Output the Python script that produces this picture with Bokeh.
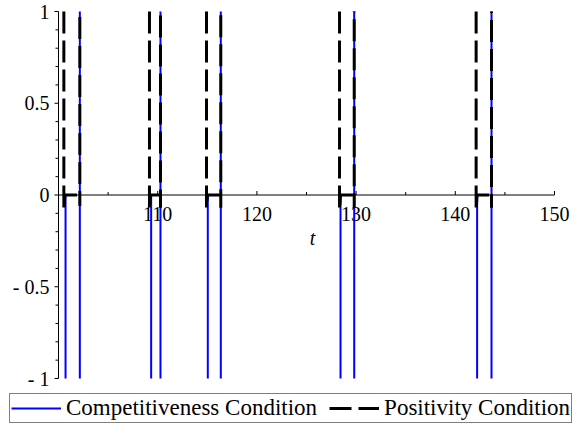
import math
from bokeh.plotting import figure
from bokeh.models import Range1d, Legend, LegendItem
from bokeh.core.properties import value
from bokeh.embed import file_html
from bokeh.resources import INLINE

nan = float("nan")

# Event times (t)
dash_left = [100.54, 109.17, 114.92, 128.33, 142.10]   # positivity drops to 0
blue_left = [100.71, 109.34, 115.05, 128.43, 142.20]   # competitiveness drops
right_t = [102.15, 110.28, 116.36, 129.81, 143.65]     # both jump back up
dip_left = [-0.08, -0.08, -0.07, -0.08, -0.08]
dip_right = [-0.06, -0.07, -0.07, -0.07, -0.07]

# Axes
x_min, x_max = 100, 150
y_min, y_max = -1, 1
x_ticks = [110, 120, 130, 140, 150]
x_tick_labels = ["110", "120", "130", "140", "150"]
x_minor = [105, 115, 125, 135, 145]
y_ticks = [-1, -0.5, 0, 0.5, 1]
y_tick_labels = ["- 1", "- 0.5", "0", "0.5", "1"]
y_minor = [-0.9, -0.8, -0.7, -0.6, -0.4, -0.3, -0.2, -0.1,
           0.1, 0.2, 0.3, 0.4, 0.6, 0.7, 0.8, 0.9]
x_label = "t"
x_label_pos = 125.6
series_names = ["Competitiveness Condition", "Positivity Condition"]

# Build the two series (values beyond the view are cut at the view edge)
comp_t, comp_y = [], []
for a, b in zip(blue_left, right_t):
    comp_t += [a, a, nan, b, b, nan]
    comp_y += [0.0, y_min, nan, y_min, y_max, nan]

pos_t, pos_y = [], []
for a, b, d1, d2 in zip(dash_left, right_t, dip_left, dip_right):
    pos_t += [a, a, a + 0.1, b, b, b, nan]
    pos_y += [y_max, d1, 0.0, 0.0, d2, y_max, nan]

serif = "Liberation Serif"
BLUE = "#0000ff"

# The frame fills the whole canvas; view ranges put t=100..150 at x=58..554
# and y=1..-1 at y=11..378 px.
p = figure(width=580, height=427, output_backend="svg", toolbar_location=None,
           x_range=Range1d(94.153, 152.621), y_range=Range1d(-1.267, 1.060),
           min_border=0, min_border_left=0, min_border_right=0,
           min_border_top=0, min_border_bottom=0)
p.outline_line_color = None
p.grid.visible = False
p.axis.visible = False
p.background_fill_color = "white"

nx, ny = len(x_ticks), len(y_ticks)

# x axis on y = 0
p.segment(x0=[x_min], y0=[0], x1=[x_max], y1=[0], line_color="black", line_width=1)
p.ray(x=x_ticks, y=[0] * nx, length=4, length_units="screen",
      angle=math.pi / 2, line_color="black", line_width=1)
p.ray(x=x_minor, y=[0] * len(x_minor), length=3, length_units="screen",
      angle=math.pi / 2, line_color="black", line_width=1)
p.text(x=x_ticks, y=[0] * nx, text=x_tick_labels, y_offset=19,
       text_align="center", text_baseline="middle", text_font=value(serif),
       text_font_size="20px", text_color="black")
p.text(x=[x_label_pos], y=[0], text=[x_label], y_offset=43,
       text_align="center", text_baseline="middle", text_font=value(serif),
       text_font_size="20px", text_font_style="italic", text_color="black")

# y axis on t = 100
p.segment(x0=[x_min], y0=[y_min], x1=[x_min], y1=[y_max], line_color="black", line_width=1)
p.ray(x=[x_min] * ny, y=y_ticks, length=4, length_units="screen",
      angle=math.pi, line_color="black", line_width=1)
p.ray(x=[x_min] * len(y_minor), y=y_minor, length=3, length_units="screen",
      angle=math.pi, line_color="black", line_width=1)
p.text(x=[x_min] * ny, y=y_ticks, text=y_tick_labels, x_offset=-9,
       text_align="right", text_baseline="middle", text_font=value(serif),
       text_font_size="20px", text_color="black")

r_comp = p.line(comp_t, comp_y, line_color=BLUE, line_width=2)
r_pos = p.line(pos_t, pos_y, line_color="black", line_width=3, line_dash="22 7")

legend = Legend(items=[LegendItem(label=series_names[0], renderers=[r_comp]),
                       LegendItem(label=series_names[1], renderers=[r_pos])],
                orientation="horizontal", location=(9, 4),
                label_text_font=serif, label_text_font_size="23px",
                label_text_color="black",
                glyph_width=50, glyph_height=18, label_standoff=5, spacing=12,
                padding=1, margin=0,
                border_line_color="black", border_line_width=1,
                background_fill_alpha=1.0)
p.add_layout(legend)

open("out.html", "w").write(file_html(p, INLINE))
